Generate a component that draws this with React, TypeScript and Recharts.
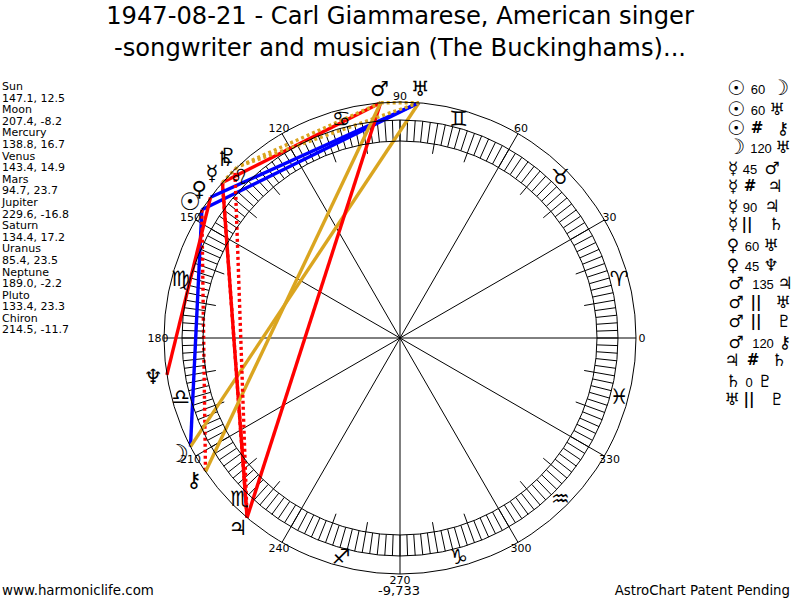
import { ComposedChart, Line, ReferenceDot, ReferenceLine, XAxis, YAxis } from 'recharts'

const planets = ['Sun', 'Moon', 'Mercury', 'Venus', 'Mars', 'Jupiter', 'Saturn', 'Uranus', 'Neptune', 'Pluto', 'Chiron']
const longitudes = [147.1, 207.4, 138.8, 143.4, 94.7, 229.6, 134.4, 85.4, 189.0, 133.4, 214.5]
const declinations = ['12.5', '-8.2', '16.7', '14.9', '23.7', '-16.8', '17.2', '23.5', '-2.2', '23.3', '-11.7']
const planetGlyphs = ['☉', '☽', '☿', '♀', '♂', '♃', '♄', '♅', '♆', '♇', '⚷']
const signGlyphs = ['♈', '♉', '♊', '♋', '♌', '♍', '♎', '♏', '♐', '♑', '♒', '♓']
const spokeDegrees = [0, 30, 60, 90, 120, 150, 180, 210, 240, 270, 300, 330]

const aspectFrom = ['Sun', 'Sun', 'Sun', 'Moon', 'Mercury', 'Mercury', 'Mercury', 'Mercury', 'Venus', 'Venus', 'Mars', 'Mars', 'Mars', 'Mars', 'Jupiter', 'Saturn', 'Uranus']
const aspectLabels = ['60', '60', '#', '120', '45', '#', '90', '||', '60', '45', '135', '||', '||', '120', '#', '0', '||']
const aspectTo = ['Moon', 'Uranus', 'Chiron', 'Uranus', 'Mars', 'Jupiter', 'Jupiter', 'Saturn', 'Uranus', 'Neptune', 'Jupiter', 'Uranus', 'Pluto', 'Chiron', 'Saturn', 'Pluto', 'Pluto']

// x of glyph, label, glyph and y of each row in the side list
const rowX = [
  [736, 758, 780], [736, 758, 777], [736, 757, 783], [736, 761, 783], [733, 750, 772], [733, 750, 775],
  [733, 750, 772], [733, 747, 776], [733, 752, 771], [733, 752, 771], [736, 763, 785], [736, 756, 783],
  [736, 756, 784], [736, 763, 785], [732, 753, 779], [733, 749, 765], [732, 749, 777],
]
const rowY = [88, 109, 128, 147, 168, 186, 206, 224, 245, 265, 283, 302, 321, 342, 360, 381, 399]

const FONT = '"DejaVu Sans", sans-serif'
const R_OUTER = 236
const R_RING_OUT = 218
const R_RING_IN = 197
const R_TICK = 187

const polar = (deg: number, r: number) => ({
  x: r * Math.cos((deg * Math.PI) / 180),
  y: r * Math.sin((deg * Math.PI) / 180),
})
const lonOf = (name: string) => longitudes[planets.indexOf(name)]
const glyphOf = (name: string) => planetGlyphs[planets.indexOf(name)]

function aspectStyle(label: string) {
  if (label === '60') return { stroke: '#0000ff' }
  if (label === '120') return { stroke: '#daa520' }
  if (label === '||' || label === '0') return { stroke: '#daa520', strokeDasharray: '3 3' }
  if (label === '#') return { stroke: '#ff0000', strokeDasharray: '3 3' }
  return { stroke: '#ff0000' }
}

const ringDegrees = Array.from({ length: 180 }, (_, i) => i * 2)
const tickDegrees = spokeDegrees.flatMap((d) => [d + 10, d + 20])

function Glyph({ x, y, size, text, bold, font }: { x: number; y: number; size: number; text: string; bold?: boolean; font?: string }) {
  return (
    <span
      style={{
        position: 'absolute',
        left: x,
        top: y,
        transform: 'translate(-50%,-50%)',
        fontSize: size,
        fontFamily: font || FONT,
        fontWeight: bold ? 'bold' : 'normal',
        lineHeight: 1,
        color: '#000',
        whiteSpace: 'nowrap',
      }}
    >
      {text}
    </span>
  )
}

export default function App() {
  return (
    <div style={{ position: 'absolute', left: 0, top: 0, width: 800, height: 600, background: '#fff', overflow: 'hidden', fontFamily: FONT }}>
      <ComposedChart width={800} height={600} margin={{ top: 0, right: 0, bottom: 0, left: 0 }}>
        <XAxis type="number" dataKey="x" domain={[-400, 400]} hide allowDataOverflow />
        <YAxis type="number" dataKey="y" domain={[-262, 338]} hide allowDataOverflow />
        <ReferenceDot x={0} y={0} r={R_OUTER} fill="none" stroke="#000" strokeWidth={1} />
        <ReferenceDot x={0} y={0} r={R_RING_OUT} fill="none" stroke="#000" strokeWidth={1} />
        <ReferenceDot x={0} y={0} r={R_RING_IN} fill="none" stroke="#000" strokeWidth={1} />
        {ringDegrees.map((d) => (
          <ReferenceLine key={d} segment={[polar(d, R_RING_IN), polar(d, R_RING_OUT)]} stroke="#000" strokeWidth={1} />
        ))}
        {tickDegrees.map((d) => (
          <ReferenceLine key={d} segment={[polar(d, R_TICK), polar(d, R_RING_IN)]} stroke="#000" strokeWidth={1} />
        ))}
        {spokeDegrees.map((d) => (
          <ReferenceLine key={d} segment={[polar(d, 0), polar(d, d === 90 ? R_RING_OUT : R_OUTER)]} stroke="#000" strokeWidth={1} />
        ))}
        {aspectFrom.map((from, i) => (
          <Line
            key={i}
            data={[polar(lonOf(from), R_OUTER), polar(lonOf(aspectTo[i]), R_OUTER)]}
            dataKey="y"
            strokeWidth={3.4}
            dot={false}
            activeDot={false}
            legendType="none"
            isAnimationActive={false}
            {...aspectStyle(aspectLabels[i])}
          />
        ))}
      </ComposedChart>

      <div style={{ position: 'absolute', left: 0, top: 0, width: 800, textAlign: 'center', fontSize: 24.2, lineHeight: '32px', color: '#000', whiteSpace: 'nowrap' }}>
        1947-08-21 - Carl Giammarese, American singer
        <br />
        -songwriter and musician (The Buckinghams)...
      </div>

      <div style={{ position: 'absolute', left: 2, top: 81, fontSize: 11, lineHeight: '11.6px', color: '#000' }}>
        {planets.map((p, i) => (
          <div key={p}>
            {p}
            <br />
            {longitudes[i].toFixed(1)}, {declinations[i]}
          </div>
        ))}
      </div>

      {spokeDegrees.map((d) => {
        const p = polar(d, 242)
        return <Glyph key={d} x={400 + p.x} y={338 - p.y} size={11} text={String(d)} />
      })}
      {signGlyphs.map((g, i) => {
        const p = polar(15 + i * 30, 227)
        return <Glyph key={g} x={400 + p.x} y={338 - p.y} size={21} text={g + '\uFE0E'} />
      })}
      {planets.map((name, i) => {
        const p = polar(longitudes[i], 250)
        const isLuminary = name === 'Sun' || name === 'Moon'
        return (
          <Glyph
            key={name}
            x={400 + p.x}
            y={338 - p.y}
            size={name === 'Sun' ? 24 : name === 'Moon' ? 25 : 21}
            bold={isLuminary}
            text={planetGlyphs[i] + '\uFE0E'}
          />
        )
      })}

      {aspectFrom.map((from, i) => {
        const label = aspectLabels[i]
        const symbol = label === '#' || label === '||'
        const to = aspectTo[i]
        return (
          <div key={i}>
            <Glyph x={rowX[i][0]} y={rowY[i]} size={from === 'Sun' ? 20 : from === 'Moon' ? 21 : 17} bold={from === 'Sun' || from === 'Moon'} text={glyphOf(from) + '\uFE0E'} />
            <Glyph x={rowX[i][1]} y={rowY[i] + (symbol ? 0 : 1)} size={symbol ? 15 : 13} bold={symbol} font={symbol ? FONT : '"Liberation Sans", sans-serif'} text={label} />
            <Glyph x={rowX[i][2]} y={rowY[i]} size={to === 'Moon' ? 21 : 17} bold={to === 'Moon'} text={glyphOf(to) + '\uFE0E'} />
          </div>
        )
      })}

      <div style={{ position: 'absolute', left: 2, top: 583, fontSize: 13.4, color: '#000' }}>www.harmoniclife.com</div>
      <div style={{ position: 'absolute', left: 0, width: 798, top: 583, textAlign: 'center', fontSize: 13, color: '#000' }}>-9,733</div>
      <div style={{ position: 'absolute', right: 10, top: 583, fontSize: 13.3, color: '#000' }}>AstroChart Patent Pending</div>
    </div>
  )
}
